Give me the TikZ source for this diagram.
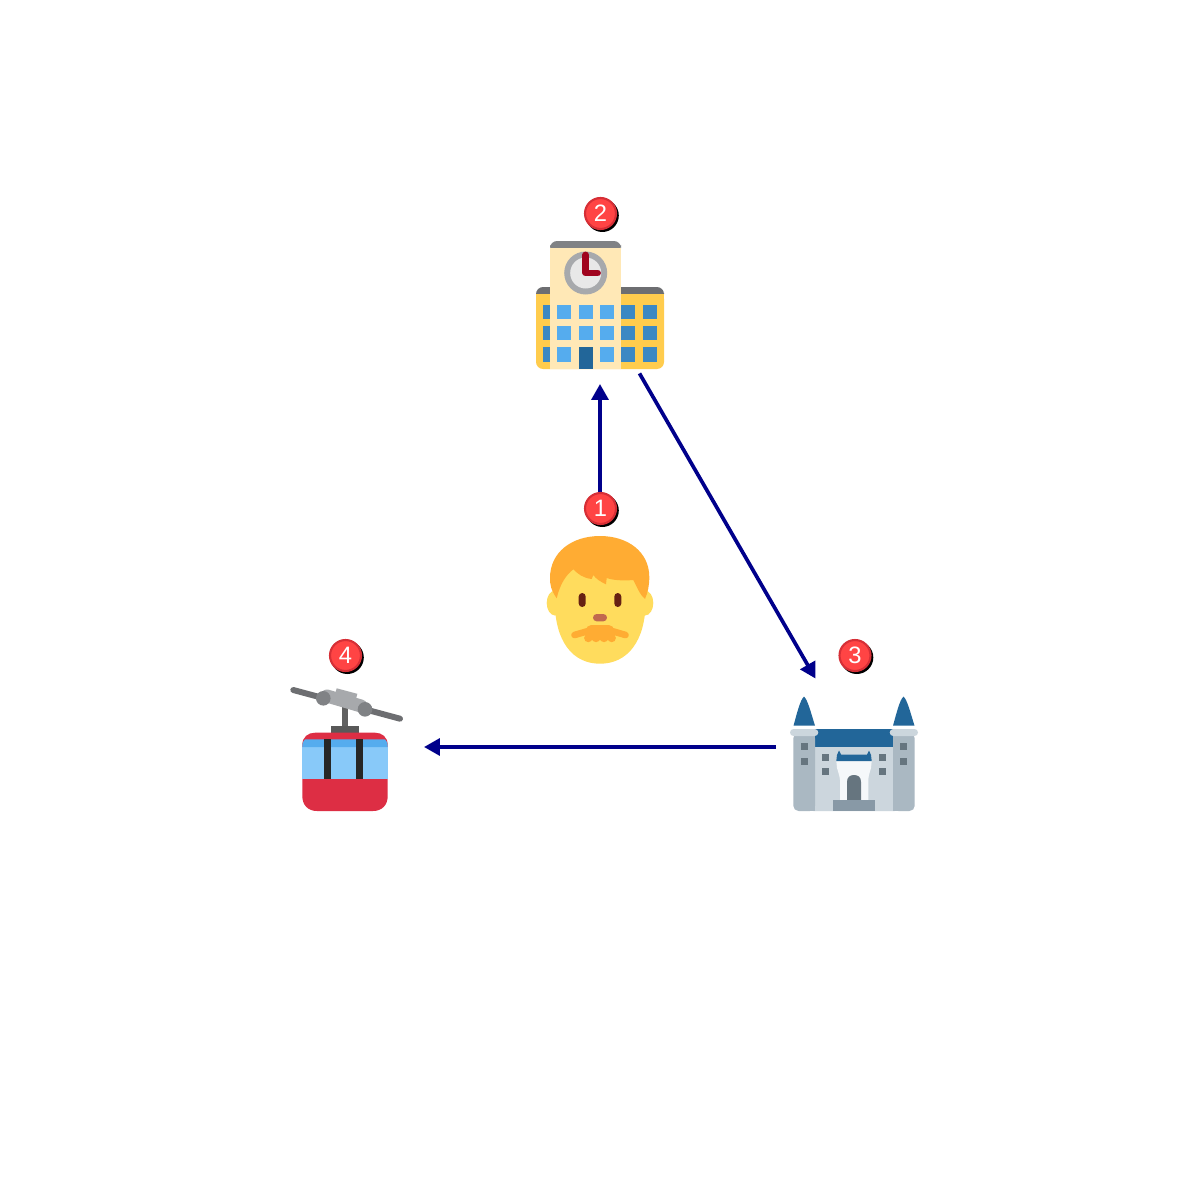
\documentclass[tikz,border=0pt]{standalone}
\usepackage{fontspec}
\setmainfont{Liberation Sans}
\usetikzlibrary{arrows.meta}
\definecolor{flow}{HTML}{00008B}
\definecolor{bady}{HTML}{FF4444}
\definecolor{badring}{HTML}{D62F36}
\definecolor{hair}{HTML}{FFAC33}
\definecolor{skin}{HTML}{FFDC5D}
\definecolor{wall}{HTML}{FFCC4D}
\definecolor{tower}{HTML}{FFE8B6}
\definecolor{winA}{HTML}{55ACEE}
\definecolor{winB}{HTML}{3B88C3}
\definecolor{navy}{HTML}{226699}
\definecolor{stone}{HTML}{CCD6DD}
\definecolor{stoneB}{HTML}{AAB8C2}
\definecolor{slate}{HTML}{66757F}
\definecolor{carred}{HTML}{DD2E44}
\definecolor{sky}{HTML}{88C9F9}
\definecolor{clampgrey}{HTML}{A7A9AC}
\definecolor{wheelgrey}{HTML}{808285}
\definecolor{cablegrey}{HTML}{6D6E71}
\tikzset{
  x=0.02cm,y=-0.02cm,
  anchorzone/.style={circle,minimum size=3.16cm,inner sep=0pt,outer sep=0pt},
  flowline/.style={draw=flow,line width=2.1pt,-{Triangle[length=9pt,width=9.5pt]}},
  badge/.style={circle,fill=bady,draw=badring,line width=1.2pt,minimum size=0.62cm,inner sep=0pt,text=white,font=\fontsize{13.5}{14}\selectfont},
  badgeshadow/.style={circle,fill=black,minimum size=0.66cm,inner sep=0pt},
}
\newcommand{\numbadge}[3]{%
  \node[badgeshadow] (#1s) at (#2+1.8,#3+2) {};
  \node[badge] (#1) at (#2,#3) {#1};}
\begin{document}
\begin{tikzpicture}
\useasboundingbox (0,0) rectangle (1200,1200);
\fill[white] (0,0) rectangle (1200,1200);
\node[anchorzone] (person) at (600,600) {};
\node[anchorzone] (school) at (600,305) {};
\node[anchorzone] (castle) at (855,747) {};
\node[anchorzone] (cable) at (345,747) {};
\draw[flowline] (person) -- (school);
\draw[flowline] (school) -- (castle);
\draw[flowline] (castle) -- (cable);
% school
\fill[wall,rounded corners=4pt] (536,292) rectangle (664,369);
\fill[cablegrey,rounded corners=4pt] (536,287) rectangle (664,300);
\fill[wall] (536,294) rectangle (664,304);
\foreach \yy in {305,326,347.3}{
  \fill[winB] (543,\yy) rectangle (550,\yy+14.3);
  \fill[winB] (621.3,\yy) rectangle (635.3,\yy+14.3);
  \fill[winB] (642.7,\yy) rectangle (656.7,\yy+14.3);
}
\fill[tower] (550,248) rectangle (621,369);
\fill[wheelgrey,rounded corners=4pt] (550,241) rectangle (621,252);
\fill[tower] (550,248) rectangle (621,256);
\foreach \yy in {305,326,347.3}{
  \foreach \xx in {557.3,578.7,600}{
    \fill[winA] (\xx,\yy) rectangle (\xx+14,\yy+14.3);
  }
}
\fill[navy] (578.7,347.3) rectangle (592.7,369);
\fill[clampgrey] (585.7,273) circle[radius=21.5*0.02cm];
\fill[black!9] (585.7,273) circle[radius=15.5*0.02cm];
\draw[color={rgb,255:red,160;green,4;blue,30},line width=3.9pt,line cap=round,line join=round] (585.7,255) -- (585.7,273) -- (597.5,273);
% person
\fill[skin] (555,603) ellipse[x radius=8.3*0.02cm,y radius=12.5*0.02cm];
\fill[skin] (645,603) ellipse[x radius=8.3*0.02cm,y radius=12.5*0.02cm];
\fill[skin] (554.7,600) .. controls (554.7,570) and (575,540) .. (600,540) .. controls (625,540) and (645.7,570) .. (645.7,600) .. controls (645.7,642) and (627,663.7) .. (600,663.7) .. controls (573,663.7) and (554.7,642) .. (554.7,600) -- cycle;
\fill[hair] (556.7,598.3) .. controls (551,590) and (550,585) .. (550,578) .. controls (550,552) and (572,536) .. (600,536) .. controls (628,536) and (649.3,552) .. (649.3,577) .. controls (649.3,585) and (648,592) .. (645,599) .. controls (640,595) and (637,587) .. (633.3,580) .. controls (622,581) and (612,580) .. (606.7,578) -- (606,584.3) .. controls (601,582) and (596,579) .. (593.3,575) -- (591.7,579) .. controls (583,578) and (578,574) .. (573.3,569.3) .. controls (566,575) and (560,584) .. (556.7,598.3) -- cycle;
\fill[color={rgb,255:red,102;green,33;blue,19},rounded corners=3.5*0.02cm] (578.7,593) rectangle (585.7,607);
\fill[color={rgb,255:red,102;green,33;blue,19},rounded corners=3.5*0.02cm] (614.3,593) rectangle (621.3,607);
\fill[color={rgb,255:red,193;green,105;blue,79},rounded corners=3.6*0.02cm] (593,614) rectangle (607,621.3);
\fill[hair,rounded corners=3pt] (586,625) rectangle (614,640);
\foreach \xx in {588.3,596,604,611.7}{\fill[hair] (\xx,638) circle[radius=4.2*0.02cm];}
\draw[hair,line width=3.8pt,line cap=round] (574.5,635) -- (590,630.5);
\draw[hair,line width=3.8pt,line cap=round] (625.5,635) -- (610,630.5);
% castle
\fill[stone,rounded corners=2pt] (810,740) rectangle (898,811);
\fill[navy] (815,729.3) rectangle (893,746.7);
\fill[stoneB,rounded corners=3pt] (793.3,733) rectangle (815,811);
\fill[stoneB] (805,733) rectangle (815,811);
\fill[stoneB,rounded corners=3pt] (893,733) rectangle (914.7,811);
\fill[stoneB] (893,733) rectangle (903,811);
\fill[navy] (793.5,725.7) .. controls (797,713) and (800.5,699) .. (804,696.7) .. controls (807.5,699) and (811,713) .. (815,725.7) -- cycle;
\fill[navy] (893,725.7) .. controls (896.5,713) and (900,699) .. (903.5,696.7) .. controls (907,699) and (910.5,713) .. (914.5,725.7) -- cycle;
\fill[stone,rounded corners=3.5*0.02cm] (790,729) rectangle (818.3,736);
\fill[stone,rounded corners=3.5*0.02cm] (889.7,729) rectangle (918,736);
\foreach \xx in {800.7,900.3}{
  \fill[slate] (\xx,743.3) rectangle (\xx+7,750.3);
  \fill[slate] (\xx,757.7) rectangle (\xx+7,764.7);
}
\foreach \xx in {822,879}{
  \fill[slate] (\xx,754) rectangle (\xx+7,761);
  \fill[slate] (\xx,768.3) rectangle (\xx+7,775.3);
}
\fill[color={rgb,255:red,245;green,248;blue,250}] (836.3,761) -- (871.7,761) -- (871,768) .. controls (870,772) and (868.5,775) .. (868.3,780) -- (868.3,800) -- (840,800) -- (840,780) .. controls (839.5,775) and (838,772) .. (837,768) -- cycle;
\fill[navy] (836.3,761) -- (837,755) -- (839,750.5) -- (841,754.5) -- (867,754.5) -- (869,750.5) -- (871,755) -- (871.7,761) -- cycle;
\fill[slate] (847,800) -- (847,782) .. controls (847,777) and (850,775) .. (854,775) .. controls (858,775) and (861,777) .. (861,782) -- (861,800) -- cycle;
\fill[color={rgb,255:red,136;green,153;blue,166}] (832.7,800) rectangle (875.3,811);
% cable car
\draw[cablegrey,line width=3.4pt,line cap=round] (293.3,690) -- (400,718.7);
\fill[black!62] (341.7,705) rectangle (348.3,726);
\draw[clampgrey,line width=7.4pt,line cap=round] (327,696) -- (361,706);
\fill[clampgrey] (336.7,688.3) -- (357.3,693.8) -- (356,699) -- (335,694) -- cycle;
\fill[wheelgrey] (323.3,698.3) circle[radius=7.3*0.02cm];
\fill[wheelgrey] (365,709.3) circle[radius=7.3*0.02cm];
\fill[black!65] (330.7,725.7) rectangle (359.3,733);
\fill[carred] (302.3,745) .. controls (302.3,737) and (308,732.7) .. (315,732.7) -- (375,732.7) .. controls (382,732.7) and (387.7,737) .. (387.7,745) -- (387.7,796) .. controls (387.7,805) and (382,811) .. (373,811) -- (317,811) .. controls (308,811) and (302.3,805) .. (302.3,796) -- cycle;
\fill[sky] (302.3,747) rectangle (387.7,779);
\fill[winA] (302.3,747) .. controls (302.3,743) and (303,741) .. (305,739.3) -- (385,739.3) .. controls (387,741) and (387.7,743) .. (387.7,747) -- cycle;
\fill[black!85] (323.7,739.3) rectangle (330.7,779);
\fill[black!85] (355.7,739.3) rectangle (362.7,779);
% badges
\numbadge{1}{600.5}{508.5}
\numbadge{2}{600.5}{213.5}
\numbadge{3}{855}{655.5}
\numbadge{4}{345.5}{655.5}
\end{tikzpicture}
\end{document}
